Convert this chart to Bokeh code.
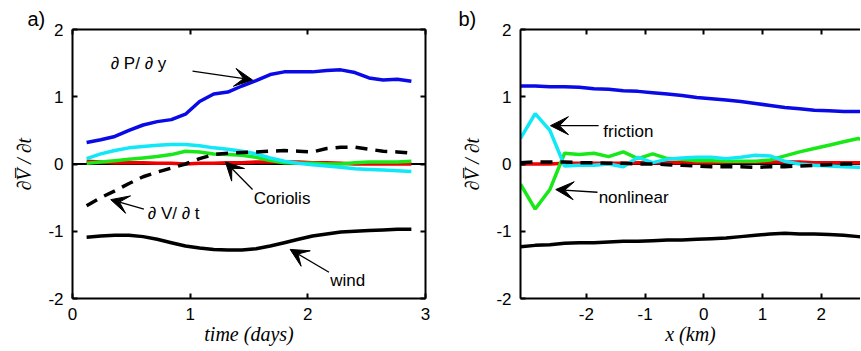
from bokeh.plotting import figure
from bokeh.layouts import row
from bokeh.models import (LinearAxis, FixedTicker, Span, Label, Arrow, VeeHead,
                          CustomJSTickFormatter)
from bokeh.embed import file_html
from bokeh.resources import INLINE

# ---------------- data: panel a (time series) ----------------
time_days = [0.12, 0.24, 0.36, 0.48, 0.60, 0.72, 0.84, 0.96, 1.08, 1.20, 1.32, 1.44,
             1.56, 1.68, 1.80, 1.92, 2.04, 2.16, 2.28, 2.40, 2.52, 2.64, 2.76, 2.88]
a_pressure = [0.32, 0.36, 0.41, 0.50, 0.58, 0.63, 0.66, 0.74, 0.93, 1.04, 1.07, 1.16,
              1.24, 1.33, 1.37, 1.37, 1.37, 1.39, 1.40, 1.36, 1.28, 1.25, 1.26, 1.23]
a_friction = [0.08, 0.15, 0.20, 0.24, 0.26, 0.28, 0.29, 0.29, 0.27, 0.24, 0.22, 0.19,
              0.15, 0.09, 0.04, 0.01, -0.01, -0.03, -0.05, -0.07, -0.08, -0.09, -0.10, -0.11]
a_nonlinear = [0.01, 0.03, 0.05, 0.07, 0.09, 0.11, 0.14, 0.19, 0.18, 0.15, 0.14, 0.13,
               0.10, 0.05, 0.02, 0.01, 0.01, 0.00, 0.00, 0.02, 0.03, 0.03, 0.03, 0.04]
a_coriolis = [0.04, 0.03, 0.02, 0.02, 0.02, 0.01, 0.01, 0.00, 0.01, 0.01, 0.02, 0.02,
              0.03, 0.03, 0.03, 0.03, 0.02, 0.02, 0.01, 0.00, 0.00, 0.00, 0.00, 0.00]
a_dvdt = [-0.62, -0.50, -0.40, -0.29, -0.19, -0.12, -0.06, 0.00, 0.08, 0.14, 0.16, 0.17,
          0.18, 0.19, 0.20, 0.19, 0.18, 0.23, 0.25, 0.25, 0.22, 0.19, 0.18, 0.16]
a_wind = [-1.09, -1.07, -1.06, -1.06, -1.08, -1.12, -1.17, -1.22, -1.25, -1.27, -1.28, -1.28,
          -1.26, -1.22, -1.17, -1.12, -1.07, -1.04, -1.01, -1.00, -0.99, -0.98, -0.97, -0.97]

# ---------------- data: panel b (cross-shore profile) ----------------
x_km = [-3.12, -2.87, -2.62, -2.37, -2.12, -1.87, -1.62, -1.37, -1.12, -0.87, -0.62, -0.37,
        -0.12, 0.13, 0.38, 0.63, 0.88, 1.13, 1.38, 1.63, 1.88, 2.13, 2.38, 2.63, 2.88]
b_pressure = [1.16, 1.16, 1.15, 1.15, 1.14, 1.12, 1.11, 1.09, 1.08, 1.06, 1.04, 1.02,
              0.99, 0.97, 0.95, 0.93, 0.90, 0.87, 0.84, 0.82, 0.80, 0.79, 0.78, 0.78, 0.77]
b_friction = [0.38, 0.75, 0.50, -0.03, -0.02, -0.02, 0.00, -0.04, 0.10, 0.02, 0.07, 0.09,
              0.10, 0.10, 0.08, 0.10, 0.13, 0.12, 0.04, 0.00, -0.02, -0.03, -0.04, -0.05, -0.05]
b_nonlinear = [-0.30, -0.67, -0.38, 0.16, 0.14, 0.16, 0.11, 0.18, 0.08, 0.15, 0.08, 0.07,
               0.05, 0.05, 0.04, 0.04, 0.04, 0.06, 0.12, 0.18, 0.23, 0.28, 0.33, 0.38, 0.30]
b_coriolis = [0.00, 0.00, 0.00, 0.01, 0.01, 0.01, 0.01, 0.01, 0.02, 0.02, 0.02, 0.02,
              0.02, 0.02, 0.03, 0.03, 0.03, 0.03, 0.03, 0.03, 0.02, 0.02, 0.02, 0.02, 0.02]
b_dvdt = [0.02, 0.03, 0.03, 0.03, 0.02, 0.02, 0.01, 0.01, 0.00, 0.00, -0.01, -0.02,
          -0.03, -0.04, -0.04, -0.04, -0.05, -0.04, -0.04, -0.03, -0.02, -0.01, 0.00, 0.00, 0.00]
b_wind = [-1.23, -1.21, -1.20, -1.18, -1.17, -1.17, -1.16, -1.15, -1.15, -1.14, -1.13, -1.13,
          -1.12, -1.11, -1.10, -1.08, -1.06, -1.04, -1.03, -1.04, -1.04, -1.05, -1.06, -1.08, -1.10]

a_xticks = [0, 1, 2, 3]
b_xticks = [-2, -1, 0, 1, 2]
yticks = [-2, -1, 0, 1, 2]

BLUE = "#0a0ae6"
CYAN = "#10e8f8"
GREEN = "#18e818"
RED = "#f00000"
SANS = "Liberation Sans"
SERIF = "Liberation Serif"
FS = "17px"
YLABEL = "∂V̅ / ∂t"

PLAIN = CustomJSTickFormatter(code="return String(tick).replace('\\u2212', '-');")
EMPTY = CustomJSTickFormatter(code="return '';")


def style_axis(ax, show_labels=True, standoff=10):
    ax.axis_line_width = 2
    ax.axis_line_color = "black"
    ax.major_tick_in = 5
    ax.major_tick_out = 0
    ax.major_tick_line_width = 2
    ax.major_tick_line_color = "black"
    ax.minor_tick_line_color = None
    ax.major_label_text_font = SANS
    ax.major_label_text_color = "black"
    ax.major_label_standoff = standoff
    ax.major_label_text_font_size = FS
    ax.formatter = PLAIN if show_labels else EMPTY


def make_fig(width, xr, xticks, mb_left, mb_right, right_axis, tag, tag_offset, xlabel):
    p = figure(width=width, height=351, x_range=xr, y_range=(-2, 2),
               output_backend="svg", toolbar_location=None,
               min_border_left=mb_left, min_border_right=mb_right,
               min_border_top=29, min_border_bottom=53)
    p.grid.visible = False
    p.outline_line_color = None
    p.background_fill_color = "white"
    p.border_fill_color = "white"
    p.xaxis.ticker = FixedTicker(ticks=xticks)
    p.yaxis.ticker = FixedTicker(ticks=yticks)
    style_axis(p.xaxis[0], True, 9)
    style_axis(p.yaxis[0], True, 9)
    for ax, text in ((p.xaxis[0], xlabel), (p.yaxis[0], YLABEL)):
        ax.axis_label = text
        ax.axis_label_text_font = SERIF
        ax.axis_label_text_font_style = "italic"
        ax.axis_label_text_font_size = "20px"
        ax.axis_label_text_color = "black"
    p.xaxis[0].axis_label_standoff = 0
    p.yaxis[0].axis_label_standoff = 10
    top = LinearAxis(ticker=FixedTicker(ticks=xticks))
    style_axis(top, False, 0)
    p.add_layout(top, "above")
    if right_axis:
        r = LinearAxis(ticker=FixedTicker(ticks=yticks))
        style_axis(r, False, 0)
        p.add_layout(r, "right")
    p.title.text = tag
    p.title.align = "left"
    p.title.offset = tag_offset
    p.title.text_font = SANS
    p.title.text_font_style = "normal"
    p.title.text_font_size = "20px"
    p.title.text_color = "black"
    p.title.standoff = 0
    p.add_layout(Span(location=0, dimension="width", line_color="black",
                      line_width=2, level="underlay"))
    return p


def add_series(p, x, cor, nonl, fric, pres, wind, dvdt):
    lw = 3.5
    p.line(x, cor, line_color=RED, line_width=lw)
    p.line(x, nonl, line_color=GREEN, line_width=lw)
    p.line(x, fric, line_color=CYAN, line_width=lw)
    p.line(x, pres, line_color=BLUE, line_width=lw)
    p.line(x, wind, line_color="black", line_width=lw)
    p.line(x, dvdt, line_color="black", line_width=lw, line_dash="12 8")


def note(p, x, y, text):
    p.add_layout(Label(x=x, y=y, text=text, text_font=SANS, text_font_size=FS,
                       text_align="left", text_baseline="middle", text_color="black"))


def arrow(p, xs, ys, xe, ye):
    p.add_layout(Arrow(end=VeeHead(size=18, fill_color="black", line_color="black",
                                   line_width=1),
                       x_start=xs, y_start=ys, x_end=xe, y_end=ye,
                       line_color="black", line_width=1.3))


# ---------------- panel a ----------------
pa = make_fig(450, (0, 3), a_xticks, 72, 25, True, "a)", -45, "time (days)")
add_series(pa, time_days, a_coriolis, a_nonlinear, a_friction, a_pressure, a_wind, a_dvdt)
note(pa, 0.325, 1.49, "∂ P/ ∂ y")
arrow(pa, 1.02, 1.38, 1.53, 1.25)
note(pa, 1.54, -0.515, "Coriolis")
arrow(pa, 1.53, -0.38, 1.30, 0.03)
note(pa, 0.64, -0.74, "∂ V/ ∂ t")
arrow(pa, 0.607, -0.67, 0.325, -0.53)
note(pa, 2.19, -1.73, "wind")
arrow(pa, 2.18, -1.61, 1.85, -1.27)

# ---------------- panel b ----------------
pb = make_fig(410, (-3.12, 2.667), b_xticks, 70, 0, False, "b)", -62, "x (km)")
add_series(pb, x_km, b_coriolis, b_nonlinear, b_friction, b_pressure, b_wind, b_dvdt)
note(pb, -1.71, 0.48, "friction")
arrow(pb, -1.79, 0.57, -2.61, 0.57)
note(pb, -1.79, -0.50, "nonlinear")
arrow(pb, -1.81, -0.42, -2.52, -0.38)

layout = row(pa, pb)
open("out.html", "w").write(file_html(layout, INLINE))
